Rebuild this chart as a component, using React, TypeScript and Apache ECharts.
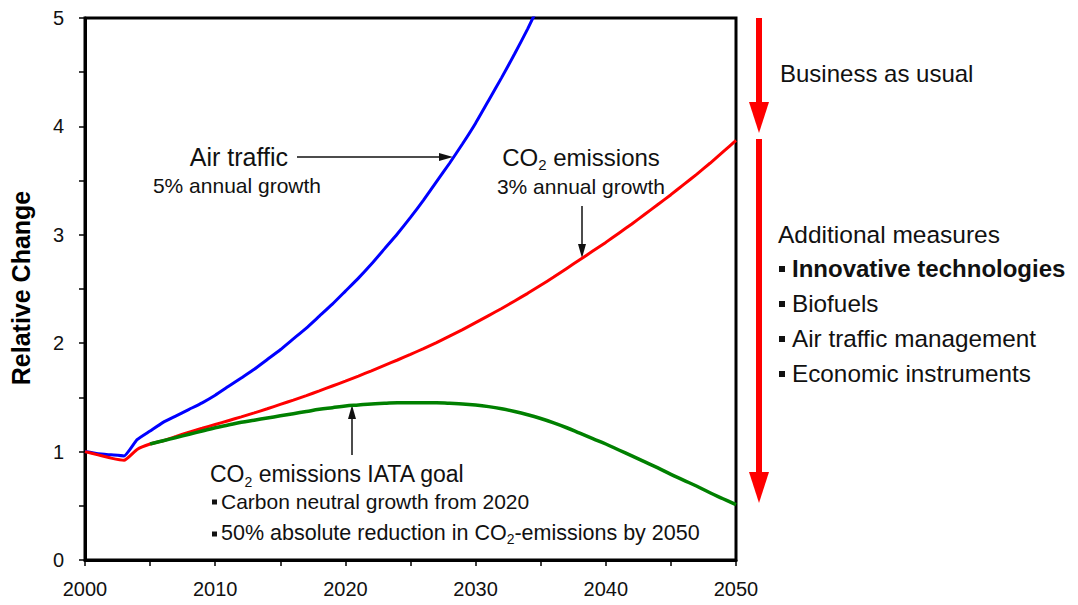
import React, { useEffect, useRef } from "react";
import * as echarts from "echarts";

const FONT = '"Liberation Sans", Arial, sans-serif';

const years = [
  2000, 2001, 2002, 2003, 2004, 2005, 2006, 2007, 2008, 2009, 2010, 2011, 2012, 2013, 2014, 2015, 2016, 2017,
  2018, 2019, 2020, 2021, 2022, 2023, 2024, 2025, 2026, 2027, 2028, 2029, 2030, 2031, 2032, 2033, 2034, 2035,
  2036, 2037, 2038, 2039, 2040, 2041, 2042, 2043, 2044, 2045, 2046, 2047, 2048, 2049, 2050,
];

// Air traffic (5% annual growth), 2000-2035 (clipped above 5)
const airTraffic = [
  1.0, 0.98, 0.97, 0.96, 1.11, 1.19, 1.27, 1.33, 1.39, 1.45, 1.52, 1.6, 1.68, 1.76, 1.85, 1.94, 2.04, 2.14,
  2.25, 2.36, 2.48, 2.6, 2.73, 2.87, 3.01, 3.16, 3.32, 3.49, 3.66, 3.84, 4.03, 4.24, 4.45, 4.67, 4.9, 5.15,
];

// CO2 emissions, business as usual (3% annual growth), 2000-2050
const co2Bau = [
  1.0, 0.97, 0.94, 0.92, 1.02, 1.07, 1.1, 1.14, 1.18, 1.215, 1.25, 1.285, 1.32, 1.357, 1.395, 1.435, 1.475,
  1.517, 1.56, 1.605, 1.65, 1.697, 1.745, 1.795, 1.845, 1.897, 1.95, 2.005, 2.065, 2.125, 2.19, 2.255, 2.32,
  2.39, 2.46, 2.535, 2.61, 2.69, 2.77, 2.85, 2.93, 3.015, 3.1, 3.19, 3.28, 3.37, 3.465, 3.56, 3.66, 3.765, 3.87,
];

// CO2 emissions, IATA goal, 2005-2050
const goalStartYear = 2005;
const co2Goal = [
  1.07, 1.1, 1.13, 1.16, 1.19, 1.22, 1.245, 1.27, 1.29, 1.31, 1.33, 1.35, 1.37, 1.39, 1.405, 1.42, 1.43, 1.44,
  1.445, 1.45, 1.45, 1.45, 1.45, 1.445, 1.44, 1.43, 1.415, 1.395, 1.37, 1.34, 1.305, 1.265, 1.22, 1.17, 1.12,
  1.07, 1.015, 0.96, 0.905, 0.85, 0.79, 0.735, 0.68, 0.62, 0.565, 0.51,
];

const xTicks = [2000, 2010, 2020, 2030, 2040, 2050];
const yTicks = [0, 1, 2, 3, 4, 5];

const rightItems = ["Biofuels", "Air traffic management", "Economic instruments"];

function pairs(startYear: number, vals: number[]) {
  return vals.map((v, i) => [startYear + i, v]);
}

export default function App() {
  const ref = useRef<HTMLDivElement>(null);

  useEffect(() => {
    if (!ref.current) return;
    const chart = echarts.init(ref.current, undefined, { renderer: "svg" });

    const txt = (x: number, y: number, text: string, size: number, extra: any = {}) => ({
      type: "text",
      x,
      y,
      style: {
        text,
        font: `${extra.bold ? "bold " : ""}${size}px ${FONT}`,
        fill: "#111",
        textAlign: extra.align || "left",
        textVerticalAlign: "middle",
        ...(extra.rich ? { rich: extra.rich } : {}),
      },
      silent: true,
    });

    const co2Rich = (size: number) => ({
      n: { fontSize: size, fontFamily: FONT, color: "#111", lineHeight: size + 6 },
      s: { fontSize: Math.round(size * 0.62), fontFamily: FONT, color: "#111", lineHeight: Math.round(size * 0.62), verticalAlign: "bottom" },
    });

    const bullet = (x: number, y: number, s: number) => ({
      type: "rect",
      shape: { x, y: y - s / 2 + 1, width: s, height: s },
      style: { fill: "#111" },
      silent: true,
    });

    const graphic: any[] = [
      // y axis title
      {
        type: "text",
        x: 21,
        y: 288,
        rotation: Math.PI / 2,
        style: {
          text: "Relative Change",
          font: `bold 25px ${FONT}`,
          fill: "#000",
          textAlign: "center",
          textVerticalAlign: "middle",
        },
        silent: true,
      },
      // Air traffic annotation
      txt(288, 157, "Air traffic", 25, { align: "right" }),
      txt(237, 185, "5% annual growth", 21, { align: "center" }),
      { type: "line", shape: { x1: 297, y1: 157, x2: 441, y2: 157 }, style: { stroke: "#111", lineWidth: 1.5 }, silent: true },
      { type: "polygon", shape: { points: [[439, 153], [453, 157], [439, 161]] }, style: { fill: "#111" }, silent: true },
      // CO2 emissions annotation
      txt(581, 157, "{n|CO}{s|2}{n| emissions}", 24, { align: "center", rich: co2Rich(24) }),
      txt(581, 186, "3% annual growth", 21, { align: "center" }),
      { type: "line", shape: { x1: 582, y1: 206, x2: 582, y2: 246 }, style: { stroke: "#111", lineWidth: 1.5 }, silent: true },
      { type: "polygon", shape: { points: [[578, 244], [582, 258], [586, 244]] }, style: { fill: "#111" }, silent: true },
      // IATA goal annotation
      { type: "line", shape: { x1: 352, y1: 455, x2: 352, y2: 417 }, style: { stroke: "#111", lineWidth: 1.5 }, silent: true },
      { type: "polygon", shape: { points: [[348, 419], [352, 405], [356, 419]] }, style: { fill: "#111" }, silent: true },
      txt(210, 474, "{n|CO}{s|2}{n| emissions IATA goal}", 23, { rich: co2Rich(23) }),
      bullet(212, 501, 5),
      txt(221, 501, "Carbon neutral growth from 2020", 21),
      bullet(212, 533, 5),
      txt(221, 533, "{m|50% absolute reduction in CO}{t|2}{m|-emissions by 2050}", 21, {
        rich: {
          m: { fontSize: 21.5, fontFamily: FONT, color: "#111", lineHeight: 26 },
          t: { fontSize: 14, fontFamily: FONT, color: "#111", lineHeight: 14, verticalAlign: "bottom" },
        },
      }),
      // Right side red arrows
      { type: "line", shape: { x1: 759, y1: 18, x2: 759, y2: 104 }, style: { stroke: "#ff0000", lineWidth: 6 }, silent: true },
      { type: "polygon", shape: { points: [[749, 102], [769, 102], [759, 133]] }, style: { fill: "#ff0000" }, silent: true },
      { type: "line", shape: { x1: 759, y1: 139, x2: 759, y2: 474 }, style: { stroke: "#ff0000", lineWidth: 6 }, silent: true },
      { type: "polygon", shape: { points: [[749, 472], [769, 472], [759, 503]] }, style: { fill: "#ff0000" }, silent: true },
      // Right side texts
      txt(780, 73, "Business as usual", 24),
      txt(778, 234, "Additional measures", 24.5),
      bullet(779, 268, 6),
      txt(792, 268, "Innovative technologies", 24, { bold: true }),
      ...rightItems.flatMap((t, i) => [bullet(779, 303 + i * 35, 6), txt(792, 303 + i * 35, t, 24.3)]),
    ];

    chart.setOption({
      animation: false,
      backgroundColor: "#fff",
      grid: {
        left: 85,
        right: 342,
        top: 18,
        bottom: 45,
        show: true,
        borderColor: "#000",
        borderWidth: 3,
        backgroundColor: "transparent",
      },
      xAxis: {
        type: "value",
        min: 2000,
        max: 2050,
        interval: 5,
        axisLine: { lineStyle: { color: "#000", width: 3 } },
        axisTick: { length: 6, lineStyle: { color: "#000", width: 1.5 } },
        splitLine: { show: false },
        axisLabel: {
          formatter: (v: number) => (xTicks.includes(v) ? String(v) : ""),
          fontSize: 20,
          fontFamily: FONT,
          color: "#111",
          margin: 19,
        },
      },
      yAxis: {
        type: "value",
        min: 0,
        max: 5,
        interval: 0.5,
        axisLine: { lineStyle: { color: "#000", width: 3 } },
        axisTick: { length: 6, lineStyle: { color: "#000", width: 1.5 } },
        splitLine: { show: false },
        axisLabel: {
          formatter: (v: number) => (yTicks.includes(v) ? String(v) : ""),
          fontSize: 20,
          fontFamily: FONT,
          color: "#111",
          margin: 21,
        },
      },
      series: [
        {
          name: "Air traffic",
          type: "line",
          data: pairs(years[0], airTraffic),
          symbol: "none",
          clip: true,
          smooth: 0.15,
          lineStyle: { color: "#0000ff", width: 3 },
          z: 3,
        },
        {
          name: "CO2 emissions IATA goal",
          type: "line",
          data: pairs(goalStartYear, co2Goal),
          symbol: "none",
          smooth: 0.4,
          lineStyle: { color: "#008000", width: 3.5 },
          z: 4,
        },
        {
          name: "CO2 emissions",
          type: "line",
          data: pairs(years[0], co2Bau),
          symbol: "none",
          smooth: 0.15,
          lineStyle: { color: "#ff0000", width: 3 },
          z: 3,
        },
      ],
      graphic,
    });

    return () => chart.dispose();
  }, []);

  return (
    <div
      ref={ref}
      style={{ position: "fixed", left: 0, top: 0, width: 1078, height: 605, background: "#fff" }}
    />
  );
}
